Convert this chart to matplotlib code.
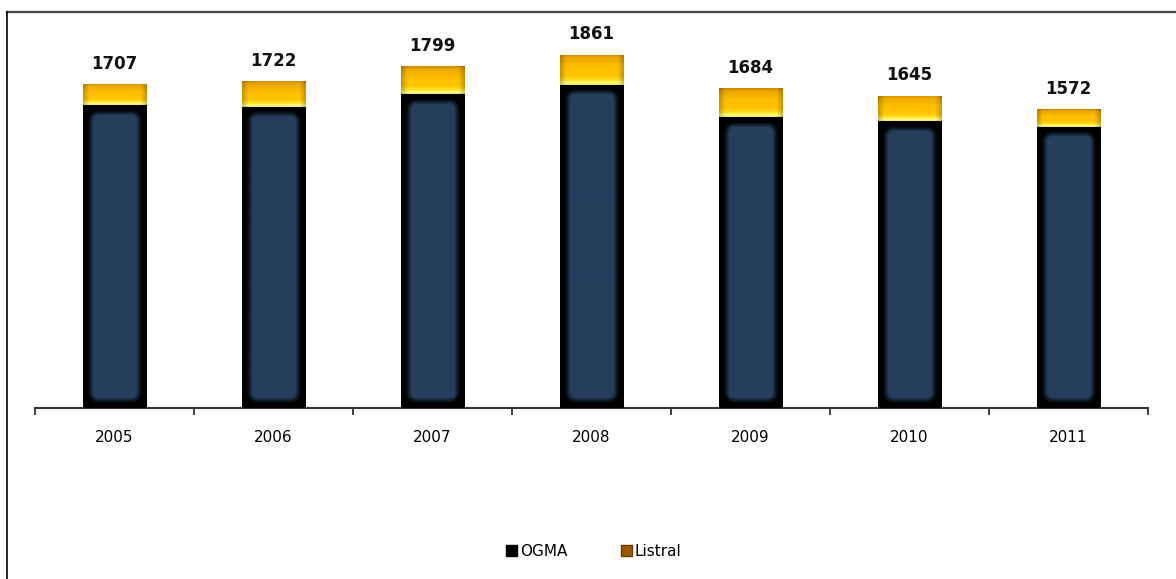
import matplotlib
matplotlib.use("Agg")
import matplotlib.pyplot as plt
import numpy as np
from matplotlib.patches import Patch
from matplotlib.lines import Line2D

years = ["2005", "2006", "2007", "2008", "2009", "2010", "2011"]
totals = [1707, 1722, 1799, 1861, 1684, 1645, 1572]
listral = [112, 135, 147, 160, 152, 135, 92]
ogma = [t - l for t, l in zip(totals, listral)]

navy = np.array([36, 62, 92]) / 255.0
bar_w = 0.4

plt.rcParams['font.family'] = ['DejaVu Sans']

fig = plt.figure(figsize=(11.76, 5.79), dpi=100)
ax = fig.add_axes([35 / 1176, 1 - 408 / 579, (1148 - 35) / 1176, 0.656])
ax.set_xlim(-0.5, len(years) - 0.5)
ax.set_ylim(0, 2000)

# pixel scale of the axes, used to build the bar textures
px_per_x = (1148 - 35) / len(years)
px_per_y = 0.656 * 579 / 2000


def ogma_texture(h_px, w_px):
    # black border fading softly into a navy rounded core
    ys, xs = np.mgrid[0:h_px, 0:w_px] + 0.5
    inset, rad = 7.5, 8.0
    cx = np.clip(xs, inset + rad, w_px - inset - rad)
    cy = np.clip(ys, inset + rad, h_px - inset - rad)
    d = np.hypot(xs - cx, ys - cy) - rad
    t = np.clip(0.5 - d / 6.0, 0, 1)
    t = t ** 1.2
    img = t[..., None] * navy[None, None, :]
    return img


def listral_texture(h_px, w_px):
    # row 0 = top of the segment
    stops = [0.0, 0.1, 0.4, 0.72, 0.86, 0.94, 1.0]
    cols = np.array([[205, 140, 0], [235, 168, 0], [255, 190, 0],
                     [255, 196, 0], [255, 225, 40], [255, 255, 130],
                     [245, 230, 110]]) / 255.0
    t = np.linspace(0, 1, h_px)
    col = np.stack([np.interp(t, stops, cols[:, k]) for k in range(3)], axis=1)
    xs = np.linspace(0, 1, w_px)
    edge = np.minimum(xs, 1 - xs) * w_px
    shade = 1 - 0.22 * np.clip(1 - edge / 6.0, 0, 1)
    img = col[:, None, :] * shade[None, :, None]
    return np.clip(img, 0, 1)


x = np.arange(len(years))
b1 = ax.bar(x, ogma, width=bar_w, color="black", zorder=2)
b2 = ax.bar(x, listral, bottom=ogma, width=bar_w, color="#ffc000", zorder=2)

for i in range(len(years)):
    w_px = int(round(bar_w * px_per_x))
    h1 = int(round(ogma[i] * px_per_y))
    im = ax.imshow(ogma_texture(h1, w_px), extent=(x[i] - bar_w / 2, x[i] + bar_w / 2, 0, ogma[i]),
                   aspect="auto", zorder=3, interpolation="bilinear", origin="upper")
    im.set_clip_path(b1[i])
    h2 = max(int(round(listral[i] * px_per_y)), 2)
    im2 = ax.imshow(listral_texture(h2, w_px),
                    extent=(x[i] - bar_w / 2, x[i] + bar_w / 2, ogma[i], ogma[i] + listral[i]),
                    aspect="auto", zorder=3, interpolation="bilinear", origin="upper")
    im2.set_clip_path(b2[i])
    ax.annotate(str(totals[i]), (x[i], totals[i]), xytext=(0, 8), textcoords="offset points",
                ha="center", va="bottom", fontsize=12, fontweight="bold", color="#111111")

ax.set_xlim(-0.5, len(years) - 0.5)
ax.set_ylim(0, 2000)

for s in ["top", "right", "left"]:
    ax.spines[s].set_visible(False)
ax.spines["bottom"].set_color("#333333")
ax.spines["bottom"].set_linewidth(1.5)
ax.set_yticks([])
ax.set_xticks(np.arange(-0.5, len(years)), minor=False)
ax.set_xticklabels([])
ax.set_xticks(x, minor=True)
ax.set_xticklabels(years, minor=True, fontsize=11)
ax.tick_params(axis="x", which="major", length=5, width=1.3, color="#333333", direction="out")
ax.tick_params(axis="x", which="minor", length=0, pad=16)

handles = [Patch(facecolor="black", edgecolor="black"),
           Patch(facecolor="#9a5a08", edgecolor="#6a3a00")]
fig.legend(handles, ["OGMA", "Listral"], loc="center", bbox_to_anchor=(0.505, 0.048), ncol=2,
           frameon=False, fontsize=11, handlelength=0.7, handleheight=0.7,
           handletextpad=0.2, columnspacing=3.5)

# outer frame (cropped chart border)
fig.add_artist(Line2D([7 / 1176, 1], [1 - 11.5 / 579, 1 - 11.5 / 579], color="#444444", lw=1.6))
fig.add_artist(Line2D([7.3 / 1176, 7.3 / 1176], [0, 1 - 11.5 / 579], color="black", lw=1.2))

fig.savefig("out.png", dpi=100, facecolor="white")
